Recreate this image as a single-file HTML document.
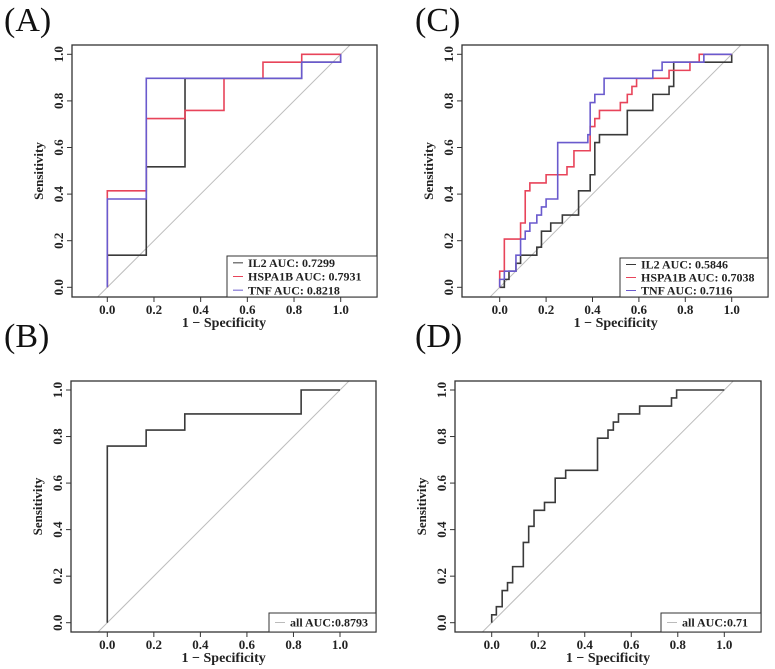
<!DOCTYPE html>
<html><head><meta charset="utf-8">
<style>
html,body{margin:0;padding:0;background:#fff;}
svg{display:block;font-family:"Liberation Serif","Times New Roman",serif;}
text{font-family:"Liberation Serif","Times New Roman",serif;}
</style></head>
<body>
<svg id="fig" width="775" height="669" viewBox="0 0 775 669" xmlns="http://www.w3.org/2000/svg"></svg>
<script>
// ---- data ----
const xTicks = [0.0, 0.2, 0.4, 0.6, 0.8, 1.0];
const yTicks = [0.0, 0.2, 0.4, 0.6, 0.8, 1.0];
const tickLabels = ["0.0","0.2","0.4","0.6","0.8","1.0"];

// Panel A
const aIL2X = [0,0,0.167,0.167,0.333,0.333,0.833,0.833,1,1];
const aIL2Y = [0,0.138,0.138,0.517,0.517,0.897,0.897,0.966,0.966,1];
const aHSPX = [0,0,0.167,0.167,0.333,0.333,0.5,0.5,0.667,0.667,0.833,0.833,1];
const aHSPY = [0,0.414,0.414,0.724,0.724,0.759,0.759,0.897,0.897,0.966,0.966,1,1];
const aTNFX = [0,0,0.167,0.167,0.833,0.833,1,1];
const aTNFY = [0,0.379,0.379,0.897,0.897,0.966,0.966,1];
const aLegend = ["IL2 AUC: 0.7299","HSPA1B AUC: 0.7931","TNF AUC: 0.8218"];

// Panel C
const cIL2X = [0,0.02,0.02,0.04,0.04,0.07,0.07,0.09,0.09,0.16,0.16,0.18,0.18,0.22,0.22,0.27,0.27,0.34,0.34,0.39,0.39,0.41,0.41,0.43,0.43,0.55,0.55,0.66,0.66,0.73,0.73,0.75,0.75,1,1];
const cIL2Y = [0,0,0.034,0.034,0.069,0.069,0.103,0.103,0.138,0.138,0.172,0.172,0.241,0.241,0.276,0.276,0.31,0.31,0.414,0.414,0.483,0.483,0.621,0.621,0.655,0.655,0.759,0.759,0.828,0.828,0.862,0.862,0.966,0.966,1];
const cHSPX = [0,0,0.02,0.02,0.09,0.09,0.11,0.11,0.13,0.13,0.2,0.2,0.29,0.29,0.32,0.32,0.39,0.39,0.41,0.41,0.43,0.43,0.52,0.52,0.55,0.55,0.57,0.57,0.59,0.59,0.73,0.73,0.82,0.82,0.86,0.86,1];
const cHSPY = [0,0.069,0.069,0.207,0.207,0.276,0.276,0.414,0.414,0.448,0.448,0.483,0.483,0.517,0.517,0.586,0.586,0.69,0.69,0.724,0.724,0.759,0.759,0.793,0.793,0.828,0.828,0.862,0.862,0.897,0.897,0.931,0.931,0.966,0.966,1,1];
const cTNFX = [0,0,0.02,0.02,0.07,0.07,0.09,0.09,0.11,0.11,0.13,0.13,0.16,0.16,0.18,0.18,0.2,0.2,0.25,0.25,0.38,0.38,0.39,0.39,0.41,0.41,0.45,0.45,0.66,0.66,0.7,0.7,0.88,0.88,1];
const cTNFY = [0,0.034,0.034,0.069,0.069,0.138,0.138,0.207,0.207,0.241,0.241,0.276,0.276,0.31,0.31,0.345,0.345,0.379,0.379,0.621,0.621,0.655,0.655,0.793,0.793,0.828,0.828,0.897,0.897,0.931,0.931,0.966,0.966,1,1];
const cLegend = ["IL2 AUC: 0.5846","HSPA1B AUC: 0.7038","TNF AUC: 0.7116"];

// Panel B
const bX = [0,0,0.167,0.167,0.333,0.333,0.833,0.833,1];
const bY = [0,0.759,0.759,0.828,0.828,0.897,0.897,1,1];
const bLegend = ["all AUC:0.8793"];

// Panel D
const dX = [0,0,0.02,0.02,0.045,0.045,0.068,0.068,0.09,0.09,0.136,0.136,0.159,0.159,0.182,0.182,0.227,0.227,0.273,0.273,0.318,0.318,0.455,0.455,0.5,0.5,0.523,0.523,0.545,0.545,0.636,0.636,0.773,0.773,0.795,0.795,1];
const dY = [0,0.034,0.034,0.069,0.069,0.138,0.138,0.172,0.172,0.241,0.241,0.345,0.345,0.414,0.414,0.483,0.483,0.517,0.517,0.621,0.621,0.655,0.655,0.793,0.793,0.828,0.828,0.862,0.862,0.897,0.897,0.931,0.931,0.966,0.966,1,1];
const dLegend = ["all AUC:0.71"];

const BLACK="#3a3a3a", RED="#e8445a", BLUE="#6a5acd";
const FONT='"Liberation Serif", "Times New Roman", serif';

// ---- drawing ----
const NS="http://www.w3.org/2000/svg";
const svg=document.getElementById('fig');
function mk(tag,attrs,parent){const e=document.createElementNS(NS,tag);for(const k in attrs)e.setAttribute(k,attrs[k]);if(tag==='text')e.setAttribute('font-family',FONT);(parent||svg).appendChild(e);return e;}

function panel(p){
  const g=mk('g',{});
  
  
  const sx=v=>p.x0+(p.x1-p.x0)*v;
  const sy=v=>p.y0+(p.y1-p.y0)*v;
  const lab=mk('text',{x:p.lx,y:p.ly,'font-size':34,fill:'#111'},g);
  lab.textContent='('+p.id+')';
  
  
  const cid='clip'+p.id;
  const cp=mk('clipPath',{id:cid},g);
  mk('rect',{x:p.bl,y:p.bt,width:p.br-p.bl,height:p.bb-p.bt},cp);
  const diag=mk('line',{x1:sx(-0.2),y1:sy(-0.2),x2:sx(1.2),y2:sy(1.2),stroke:'#bdbdbd','stroke-width':1,'clip-path':'url(#'+cid+')'},g);
  
  
  p.series.forEach(s=>{
    let d='';
    for(let i=0;i<s.x.length;i++){d+=(i?'L':'M')+sx(s.x[i]).toFixed(2)+','+sy(s.y[i]).toFixed(2);}
    const path=mk('path',{d:d,fill:'none',stroke:s.c,'stroke-width':1.6},g);
    
    
  });
  const box=mk('rect',{x:p.bl,y:p.bt,width:p.br-p.bl,height:p.bb-p.bt,fill:'none',stroke:'#333','stroke-width':1.3},g);
  
  
  xTicks.forEach((v,i)=>{
    mk('line',{x1:sx(v),y1:p.bb,x2:sx(v),y2:p.bb+5,stroke:'#333','stroke-width':1},g);
    const t=mk('text',{x:sx(v),y:p.bb+17,'font-size':13,'font-weight':'bold','text-anchor':'middle',fill:'#222'},g);
    t.textContent=tickLabels[i];
    
    
  });
  yTicks.forEach((v,i)=>{
    mk('line',{x1:p.bl,y1:sy(v),x2:p.bl-5,y2:sy(v),stroke:'#333','stroke-width':1},g);
    const tx=p.bl-9, ty=sy(v);
    const t=mk('text',{x:tx,y:ty,'font-size':13,'font-weight':'bold','text-anchor':'middle',fill:'#222',transform:'rotate(-90 '+tx+' '+ty+')'},g);
    t.textContent=tickLabels[i];
    
    
  });
  const xt=mk('text',{x:(sx(0)+sx(1))/2,y:p.bb+30,'font-size':14,'font-weight':'bold','text-anchor':'middle',fill:'#222'},g);
  xt.textContent='1 \u2212 Specificity';
  
  
  const yx=p.bl-29, yy=(p.bt+p.bb)/2;
  const yt=mk('text',{x:yx,y:yy,'font-size':13,'font-weight':'bold','text-anchor':'middle',fill:'#222',transform:'rotate(-90 '+yx+' '+yy+')'},g);
  yt.textContent='Sensitivity';
  
  
  const lg=mk('g',{},g);
  
  
  mk('rect',{x:p.lg[0],y:p.lg[1],width:p.br-p.lg[0],height:p.bb-p.lg[1],fill:'#fff',stroke:'#333','stroke-width':1},lg);
  const n=p.legend.length, h=p.bb-p.lg[1];
  p.legend.forEach((txt,i)=>{
    const cy=p.lg[1]+h*(i+0.5)/n;
    const col=p.series.length>1?p.series[i].c:'#bbb';
    mk('line',{x1:p.lg[0]+6,y1:cy,x2:p.lg[0]+16,y2:cy,stroke:col,'stroke-width':1},lg);
    const t=mk('text',{x:p.lg[0]+21,y:cy+4.2,'font-size':12,'font-weight':'bold',fill:'#222'},lg);
    t.textContent=txt;
    
    
  });
}

panel({id:'A',lx:4,ly:31,x0:107.3,x1:340.7,y0:287.3,y1:54.3,bl:72,br:377,bt:45,bb:297,lg:[227,256],legend:aLegend,
  series:[{n:'il2',x:aIL2X,y:aIL2Y,c:BLACK},{n:'hspa1b',x:aHSPX,y:aHSPY,c:RED},{n:'tnf',x:aTNFX,y:aTNFY,c:BLUE}]});
panel({id:'C',lx:415,ly:31,x0:499.7,x1:731.7,y0:287.3,y1:54.3,bl:462,br:768,bt:45,bb:297,lg:[620,258],legend:cLegend,
  series:[{n:'il2',x:cIL2X,y:cIL2Y,c:BLACK},{n:'hspa1b',x:cHSPX,y:cHSPY,c:RED},{n:'tnf',x:cTNFX,y:cTNFY,c:BLUE}]});
panel({id:'B',lx:4,ly:347,x0:107.3,x1:340,y0:622.7,y1:390,bl:71,br:376,bt:381,bb:632,lg:[269,613],legend:bLegend,
  series:[{n:'all',x:bX,y:bY,c:BLACK}]});
panel({id:'D',lx:415,ly:347,x0:491.7,x1:724.3,y0:622.7,y1:390,bl:455,br:761,bt:381,bb:632,lg:[661,613],legend:dLegend,
  series:[{n:'all',x:dX,y:dY,c:BLACK}]});
</script>
</body></html>
